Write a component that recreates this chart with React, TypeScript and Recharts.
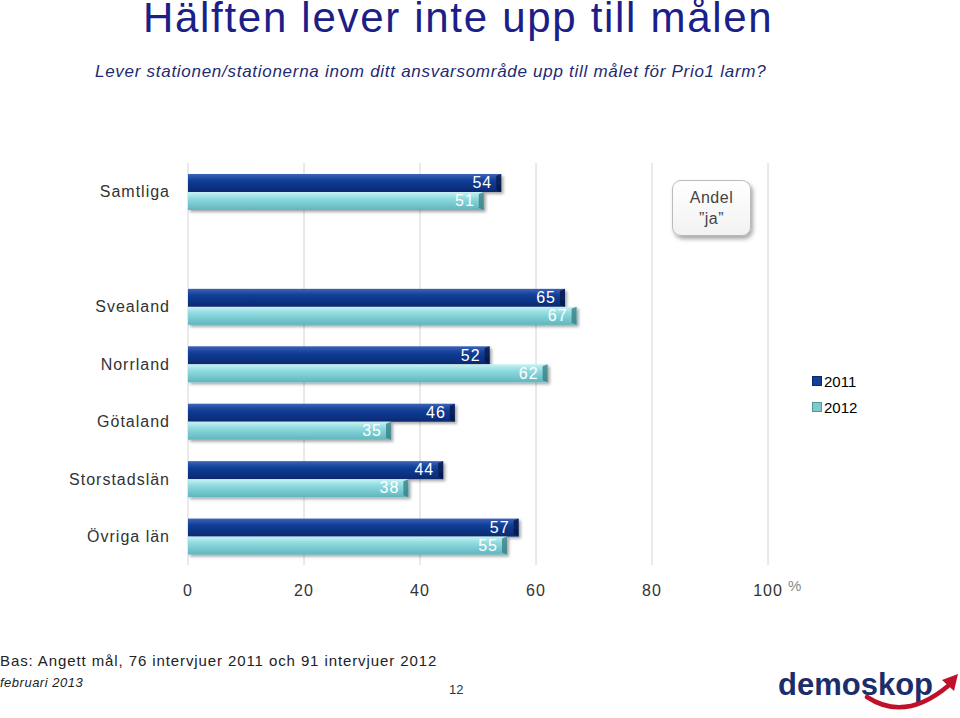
import React from 'react';
import { BarChart, Bar, XAxis, YAxis, CartesianGrid, LabelList } from 'recharts';

const categories = ['Samtliga', ' ', 'Svealand', 'Norrland', 'Götaland', 'Storstadslän', 'Övriga län'];
const values2011 = [54, null, 65, 52, 46, 44, 57];
const values2012 = [51, null, 67, 62, 35, 38, 55];
const xTicks = [0, 20, 40, 60, 80, 100];
const seriesNames = ['2011', '2012'];

const chartData = categories.map((name, i) => ({
  name,
  y2011: values2011[i],
  y2012: values2012[i],
}));

const FONT = '"Liberation Sans", Arial, sans-serif';

const BevelBar = (props: any) => {
  const { x, y, width, height, gradId, edge } = props;
  if (!width || width <= 0) return null;
  const bevel = 5;
  return (
    <g filter="url(#barShadow)">
      <rect x={x} y={y} width={width} height={height} fill={`url(#${gradId})`} />
      <polygon
        points={`${x + width - bevel},${y + 2} ${x + width},${y} ${x + width},${y + height} ${x + width - bevel},${y + height - 2}`}
        fill={edge}
        opacity={0.8}
      />
    </g>
  );
};

const ValueLabel = (props: any) => {
  const { x, y, width, height, value } = props;
  if (value == null) return null;
  return (
    <text
      x={x + width - 9}
      y={y + height / 2 + 1}
      textAnchor="end"
      dominantBaseline="middle"
      fill="#ffffff"
      fontSize={16}
      fontFamily={FONT}
      letterSpacing={1}
    >
      {value}
    </text>
  );
};

export default function App() {
  return (
    <div style={{ position: 'fixed', left: 0, top: 0, width: 960, height: 718, background: '#fff', fontFamily: FONT, overflow: 'hidden' }}>
      <div style={{ position: 'absolute', left: 143, top: 0, fontSize: 42, lineHeight: '36px', letterSpacing: 1.7, color: '#1a2088', whiteSpace: 'nowrap' }}>
        Hälften lever inte upp till målen
      </div>
      <div style={{ position: 'absolute', left: 95, top: 62, fontSize: 17, fontStyle: 'italic', color: '#1e2a72', letterSpacing: 0.72, whiteSpace: 'nowrap' }}>
        Lever stationen/stationerna inom ditt ansvarsområde upp till målet för Prio1 larm?
      </div>

      <BarChart
        width={960}
        height={718}
        data={chartData}
        layout="vertical"
        margin={{ top: 163, right: 192, bottom: 123, left: 0 }}
        barGap={0}
        barCategoryGap={0}
      >
        <defs>
          <linearGradient id="g2011" x1="0" y1="0" x2="0" y2="1">
            <stop offset="0%" stopColor="#3d63b8" />
            <stop offset="35%" stopColor="#123f98" />
            <stop offset="100%" stopColor="#0a2870" />
          </linearGradient>
          <linearGradient id="g2012" x1="0" y1="0" x2="0" y2="1">
            <stop offset="0%" stopColor="#c9f2f3" />
            <stop offset="35%" stopColor="#8fdbe0" />
            <stop offset="100%" stopColor="#5fb6bd" />
          </linearGradient>
          <filter id="barShadow" x="-5%" y="-20%" width="115%" height="160%">
            <feDropShadow dx="2" dy="2" stdDeviation="1.5" floodColor="#000" floodOpacity="0.35" />
          </filter>
        </defs>
        <CartesianGrid horizontal={false} stroke="#d4d4d4" />
        <XAxis
          type="number"
          domain={[0, 100]}
          ticks={xTicks}
          height={30}
          axisLine={false}
          tickLine={false}
          tickMargin={14}
          tick={{ fill: '#333', fontSize: 16, fontFamily: FONT, letterSpacing: 1 }}
        />
        <YAxis
          type="category"
          dataKey="name"
          width={188}
          axisLine={false}
          tickLine={false}
          tickSize={0}
          tickMargin={18}
          tick={{ fill: '#333', fontSize: 16, fontFamily: FONT, letterSpacing: 1 }}
        />
        <Bar
          dataKey="y2011"
          name={seriesNames[0]}
          barSize={18}
          isAnimationActive={false}
          shape={(p: any) => <BevelBar {...p} gradId="g2011" edge="#051a4a" />}
        >
          <LabelList dataKey="y2011" content={<ValueLabel />} />
        </Bar>
        <Bar
          dataKey="y2012"
          name={seriesNames[1]}
          barSize={18}
          isAnimationActive={false}
          shape={(p: any) => <BevelBar {...p} gradId="g2012" edge="#3a7f86" />}
        >
          <LabelList dataKey="y2012" content={<ValueLabel />} />
        </Bar>
      </BarChart>

      <div style={{ position: 'absolute', left: 788, top: 577, fontSize: 15, color: '#888' }}>%</div>

      {/* Andel "ja" box */}
      <div
        style={{
          position: 'absolute', left: 672, top: 180, width: 79, height: 56,
          border: '1px solid #bbb', borderRadius: 9, background: 'linear-gradient(#fff, #f2f2f2)',
          boxShadow: '2px 3px 4px rgba(0,0,0,0.35)', textAlign: 'center', fontSize: 16,
          color: '#444', lineHeight: '21px', paddingTop: 6, boxSizing: 'border-box', letterSpacing: 0.5,
        }}
      >
        Andel<br />”ja”
      </div>

      {/* legend */}
      <div style={{ position: 'absolute', left: 812, top: 371, fontSize: 15, color: '#000' }}>
        <div style={{ display: 'flex', alignItems: 'center', height: 20 }}>
          <span style={{ width: 8, height: 8, background: '#123f98', border: '1px solid #0a2870', marginRight: 2 }} />
          {seriesNames[0]}
        </div>
        <div style={{ display: 'flex', alignItems: 'center', height: 20, marginTop: 6 }}>
          <span style={{ width: 8, height: 8, background: '#7fc8cc', border: '1px solid #4a9aa0', marginRight: 2 }} />
          {seriesNames[1]}
        </div>
      </div>

      {/* footer */}
      <div style={{ position: 'absolute', left: 0, top: 652, fontSize: 15, color: '#222', letterSpacing: 0.9, whiteSpace: 'nowrap' }}>
        Bas: Angett mål, 76 intervjuer 2011 och 91 intervjuer 2012
      </div>
      <div style={{ position: 'absolute', left: 0, top: 675, fontSize: 13, fontStyle: 'italic', color: '#222', letterSpacing: 0.5 }}>
        februari 2013
      </div>
      <div style={{ position: 'absolute', left: 449, top: 682, fontSize: 13, color: '#333' }}>12</div>

      {/* logo */}
      <svg style={{ position: 'absolute', left: 770, top: 650 }} width={190} height={68}>
        <text x={8} y={45} fontSize={31} fontWeight="bold" fill="#1b2d6b" fontFamily={FONT}>
          demoskop
        </text>
        <path d="M97,47 Q135,72 178,36" stroke="#c0102a" strokeWidth={4.5} fill="none" strokeLinecap="round" />
        <polygon points="172,30 188,24 184,41" fill="#c0102a" />
      </svg>
    </div>
  );
}
